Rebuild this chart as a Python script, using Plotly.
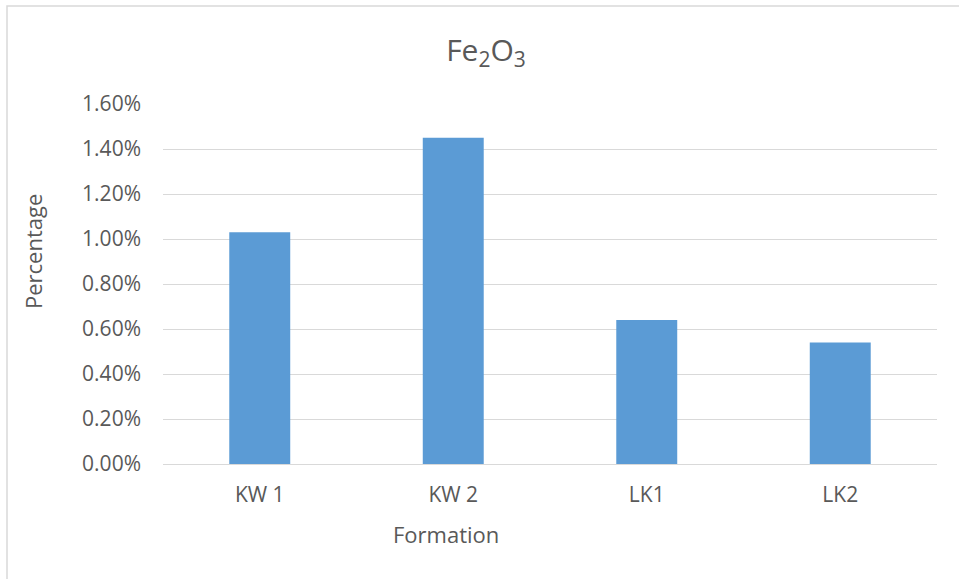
import plotly.graph_objects as go

# Fe2O3 content by formation
formations = ["KW 1", "KW 2", "LK1", "LK2"]
fe2o3_pct = [1.03, 1.45, 0.64, 0.54]
y_ticks = [0.0, 0.2, 0.4, 0.6, 0.8, 1.0, 1.2, 1.4, 1.6]
y_tick_text = [f"{v:.2f}%" for v in y_ticks]

W, H = 959, 579
ML, MR, MT, MB = 163, 22, 104, 115
PW, PH = W - ML - MR, H - MT - MB

TEXT = "#595959"
GRID = "#d9d9d9"
FONT = "Open Sans"


def px_x(px):
    return (px - ML) / PW


def px_y(py):
    return (H - MB - py) / PH


fig = go.Figure(
    go.Bar(
        x=formations,
        y=fe2o3_pct,
        width=0.315,
        marker=dict(color="#5b9bd5", line=dict(width=0)),
    )
)

fig.update_layout(
    width=W,
    height=H,
    margin=dict(l=ML, r=MR, t=MT, b=MB),
    paper_bgcolor="white",
    plot_bgcolor="white",
    font=dict(family=FONT, color=TEXT, size=21),
    showlegend=False,
    title=dict(
        text="Fe<sub>2</sub>O<sub>3</sub>",
        font=dict(family=FONT, size=30, color=TEXT),
        x=486 / W,
        xanchor="center",
        xref="container",
        y=1 - 50 / H,
        yanchor="middle",
        yref="container",
    ),
    xaxis=dict(
        showgrid=False,
        showline=False,
        ticks="",
        tickfont=dict(size=21, color=TEXT),
        ticklabelstandoff=16,
    ),
    yaxis=dict(
        range=[0, 1.6],
        tickvals=y_ticks,
        ticktext=y_tick_text,
        showgrid=True,
        gridcolor=GRID,
        gridwidth=1.4,
        zeroline=True,
        zerolinecolor=GRID,
        zerolinewidth=1.4,
        ticks="",
        tickfont=dict(size=21, color=TEXT),
        ticklabelstandoff=21,
    ),
    annotations=[
        dict(
            text="Formation",
            xref="paper", yref="paper",
            x=px_x(446), y=px_y(534),
            xanchor="center", yanchor="middle",
            showarrow=False,
            font=dict(family=FONT, size=22, color=TEXT),
        ),
        dict(
            text="Percentage",
            xref="paper", yref="paper",
            x=px_x(33), y=px_y(252),
            xanchor="center", yanchor="middle",
            textangle=-90,
            showarrow=False,
            font=dict(family=FONT, size=22, color=TEXT),
        ),
    ],
    shapes=[
        dict(
            type="path",
            xref="paper", yref="paper",
            path=(
                f"M {px_x(7)} {px_y(H + 5)} "
                f"L {px_x(7)} {px_y(6)} "
                f"L {px_x(W + 5)} {px_y(6)}"
            ),
            line=dict(color=GRID, width=1.5),
        )
    ],
)

fig.write_html("out.html")
